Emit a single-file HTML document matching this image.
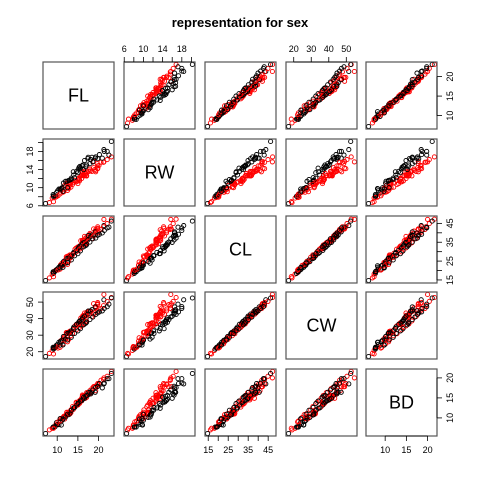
<!DOCTYPE html>
<html><head><meta charset="utf-8"><style>
body{margin:0;background:#fff}
svg{display:block;font-family:"Liberation Sans",sans-serif}
</style></head><body>
<svg id="c" width="480" height="480">
<text x="240" y="27" text-anchor="middle" font-size="13" font-weight="bold">representation for sex</text>
</svg>
<script>
const varNames = ["FL","RW","CL","CW","BD"];
const varMin = [7.2,6.5,14.7,17.1,6.1];
const varMax = [23.1,20.2,47.6,54.6,21.6];
const tickVals = [[10,15,20],[6,8,10,12,14,16,18,20],[15,20,25,30,35,40,45],[20,30,40,50],[10,15,20]];
const tickLabels = [["10","15","20"],["6","","10","","14","","18",""],["15","","25","","35","","45"],["20","30","40","50"],["10","15","20"]];
// groups in data order: blue male, blue female, orange male, orange female
const blueMale = [[8.1,6.7,16.1,19.0,7.0],[8.8,7.7,18.1,20.8,7.4],[9.2,7.8,19.0,22.4,7.7],[9.6,7.9,20.1,23.1,8.2],[9.8,8.0,20.3,23.0,8.2],[10.8,9.0,23.0,26.5,9.8],[11.1,9.9,23.8,27.1,9.8],[11.6,9.1,24.5,28.4,10.4],[11.8,9.6,24.2,27.8,9.7],[11.8,10.5,25.2,29.3,10.3],[12.2,10.8,27.3,31.6,10.9],[12.3,11.0,26.8,31.5,11.4],[12.6,10.0,27.7,31.7,11.4],[12.8,10.2,27.2,31.8,10.9],[12.8,10.9,27.4,31.5,11.0],[12.9,11.0,26.8,30.9,11.4],[13.1,10.6,28.2,32.3,11.0],[13.1,10.9,28.3,32.4,11.2],[13.3,11.1,27.8,32.3,11.3],[13.9,11.1,29.2,33.3,12.1],[14.3,11.6,31.3,35.5,12.7],[14.6,11.3,31.9,36.4,13.7],[15.0,10.9,31.4,36.4,13.2],[15.0,11.5,32.4,37.0,13.4],[15.0,11.9,32.5,37.2,13.6],[15.2,12.1,32.3,36.7,13.6],[15.4,11.8,33.0,37.5,13.6],[15.7,12.6,35.8,40.3,14.5],[15.9,12.7,34.0,38.9,14.2],[16.1,12.8,34.9,40.7,15.7],[16.1,13.6,36.0,41.0,15.4],[16.2,13.3,36.0,41.7,15.4],[16.3,12.7,35.6,40.9,14.9],[16.4,13.0,35.7,41.8,15.2],[16.6,13.5,38.1,43.4,14.9],[16.8,12.8,36.2,41.8,14.9],[16.9,13.2,37.3,42.7,15.6],[17.1,12.6,36.4,42.0,15.1],[17.1,12.7,36.7,41.9,15.6],[17.2,13.5,37.6,43.9,16.1],[17.7,13.6,38.7,44.5,16.0],[17.9,14.1,39.7,44.6,16.8],[18.0,13.7,39.2,44.4,16.2],[18.8,15.8,42.1,49.0,17.8],[19.3,13.5,41.6,47.4,17.8],[19.3,13.8,40.9,46.5,16.8],[19.7,15.3,41.9,48.5,17.8],[19.8,14.2,43.2,49.7,18.6],[19.8,14.3,42.4,48.9,18.3],[21.3,15.7,47.1,54.6,20.0]];
const blueFemale = [[7.2,6.5,14.7,17.1,6.1],[9.0,8.5,19.3,22.7,7.7],[9.1,8.1,18.5,21.6,7.7],[9.1,8.2,19.2,22.2,7.7],[9.5,8.2,19.6,22.4,7.8],[9.8,8.9,20.4,23.9,8.8],[10.1,9.3,20.9,24.4,8.4],[10.4,9.7,21.7,25.7,8.3],[10.8,9.5,22.5,26.3,9.1],[11.0,9.8,22.5,25.7,8.2],[11.2,10.0,22.8,26.9,9.4],[11.5,11.0,24.7,29.2,10.1],[12.0,11.4,23.9,27.6,10.2],[12.4,11.4,26.3,31.0,10.7],[12.8,11.6,26.6,31.4,10.8],[13.1,11.7,26.7,31.5,11.2],[13.4,12.1,27.9,32.6,11.9],[13.9,13.5,29.0,34.0,12.4],[14.7,13.6,30.6,36.6,13.2],[15.1,14.1,31.8,37.3,13.8],[15.3,14.5,32.3,38.2,14.0],[15.5,14.7,32.9,38.7,14.3],[16.2,15.0,34.6,40.5,14.7],[16.6,16.0,34.9,41.5,14.9],[17.4,16.4,36.2,42.8,15.7],[17.5,16.7,38.6,44.6,16.4],[18.4,16.7,38.8,45.4,16.4],[19.2,16.5,40.5,47.1,16.4],[21.3,18.4,43.8,51.4,18.5],[14.0,12.8,29.6,34.8,12.5],[16.0,14.8,33.6,39.6,14.4],[18.1,16.2,38.0,44.6,16.0]];
const orangeMale = [[9.1,6.9,16.7,18.6,7.4],[10.2,8.2,20.2,22.2,9.0],[10.7,8.6,20.7,22.7,9.2],[11.4,9.0,22.7,24.8,10.1],[12.5,9.4,23.2,26.0,10.8],[12.8,9.8,24.9,27.5,11.1],[13.7,10.7,28.3,30.9,12.8],[14.6,11.3,29.9,33.2,13.9],[15.4,11.5,31.3,34.7,14.3],[16.5,12.6,33.5,36.8,15.6],[17.1,12.6,34.7,38.6,16.3],[18.4,13.6,36.9,41.3,17.3],[19.8,14.8,40.0,44.6,18.3],[21.2,15.6,43.2,47.8,19.6],[22.1,16.2,44.9,50.4,20.4],[23.1,16.8,47.2,52.8,21.6],[20.6,15.6,41.8,46.2,19.4],[18.8,14.4,38.3,42.7,17.7],[15.9,12.0,32.0,35.6,14.9],[13.3,10.1,27.0,29.7,12.0],[16.9,13.1,34.1,38.0,15.5],[19.1,14.0,39.0,43.5,17.9],[20.1,14.9,41.0,45.8,18.5]];
const orangeFemale = [[10.7,9.7,21.4,24.0,9.8],[11.4,9.2,21.7,24.1,9.7],[12.5,10.0,24.1,27.0,10.9],[13.4,11.8,25.6,28.7,11.9],[14.2,12.2,27.8,31.1,12.6],[15.0,13.3,28.9,32.6,13.6],[15.6,14.3,30.4,33.9,14.2],[16.4,14.0,32.6,36.3,15.2],[17.1,15.0,33.7,37.8,15.6],[17.9,15.3,35.1,39.4,16.4],[18.6,15.7,36.8,40.9,17.0],[19.3,16.8,37.2,42.5,17.6],[20.2,17.3,39.2,44.1,18.6],[20.9,16.5,39.9,44.7,17.5],[21.4,18.0,41.2,46.2,18.7],[22.1,18.0,42.6,47.2,19.8],[22.5,17.2,43.0,48.7,19.8],[23.1,20.2,46.2,52.5,21.1],[19.8,16.4,38.7,43.4,17.9],[16.9,14.6,33.2,37.2,15.4]];
const groups = [blueMale, blueFemale, orangeMale, orangeFemale];
const groupColors = ["#ff0000","#000000","#ff0000","#000000"];

const NS="http://www.w3.org/2000/svg", svg=document.getElementById('c');
const colX=[43,124,205,286,366], rowY=[62,139,216,292,369], PW=71, PH=67;
function mk(t,a,p){const e=document.createElementNS(NS,t);for(const k in a)e.setAttribute(k,a[k]);(p||svg).appendChild(e);return e;}
function lo(v){return varMin[v]-0.04*(varMax[v]-varMin[v]);}
function hi(v){return varMax[v]+0.04*(varMax[v]-varMin[v]);}
function sx(v,c,val){return colX[c]+(val-lo(v))/(hi(v)-lo(v))*PW;}
function sy(v,r,val){return rowY[r]+PH-(val-lo(v))/(hi(v)-lo(v))*PH;}

for(let r=0;r<5;r++)for(let c=0;c<5;c++){
  const g=mk('g',{});
  
  
  if(r===c){
    const t=mk('text',{x:colX[c]+PW/2,y:rowY[r]+PH/2+6,'text-anchor':'middle','font-size':'18'},g);
    t.textContent=varNames[r];
    
    
  } else {
    groups.forEach((grp,gi)=>{grp.forEach(row=>{
      const p=mk('circle',{cx:sx(c,c,row[c]).toFixed(1),cy:sy(r,r,row[r]).toFixed(1),r:2.1,fill:'none',stroke:groupColors[gi],'stroke-width':0.9},g);
      
      
    });});
  }
  mk('rect',{x:colX[c],y:rowY[r],width:PW,height:PH,fill:'none',stroke:'#555','stroke-width':1.2},g);
}
// axes
function axisH(v,c,top){
  const g=mk('g',{});
  
  
  const y=top?rowY[0]:rowY[4]+PH, d=top?-1:1;
  const tv=tickVals[v], xs=tv.map(t=>sx(v,c,t));
  mk('line',{x1:xs[0],x2:xs[xs.length-1],y1:y,y2:y,stroke:'#000','stroke-width':0.8},g);
  tv.forEach((t,i)=>{mk('line',{x1:xs[i],x2:xs[i],y1:y,y2:y+5*d,stroke:'#000','stroke-width':0.8},g);
    if(tickLabels[v][i]){const tx=mk('text',{x:xs[i],y:top?y-10:y+17,'text-anchor':'middle','font-size':'9'},g);tx.textContent=tickLabels[v][i];}});
}
function axisV(v,r,left){
  const g=mk('g',{});
  
  
  const x=left?colX[0]:colX[4]+PW, d=left?-1:1;
  const tv=tickVals[v], ys=tv.map(t=>sy(v,r,t));
  mk('line',{x1:x,x2:x,y1:ys[0],y2:ys[ys.length-1],stroke:'#000','stroke-width':0.8},g);
  tv.forEach((t,i)=>{mk('line',{x1:x,x2:x+5*d,y1:ys[i],y2:ys[i],stroke:'#000','stroke-width':0.8},g);
    if(tickLabels[v][i]){const lx=left?x-10:x+16;const tx=mk('text',{x:lx,y:ys[i],'text-anchor':'middle','font-size':'9',transform:`rotate(-90 ${lx} ${ys[i]})`},g);tx.textContent=tickLabels[v][i];}});
}
axisH(1,1,true);axisH(3,3,true);
axisH(0,0,false);axisH(2,2,false);axisH(4,4,false);
axisV(1,1,true);axisV(3,3,true);
axisV(0,0,false);axisV(2,2,false);axisV(4,4,false);
</script>
</body></html>
